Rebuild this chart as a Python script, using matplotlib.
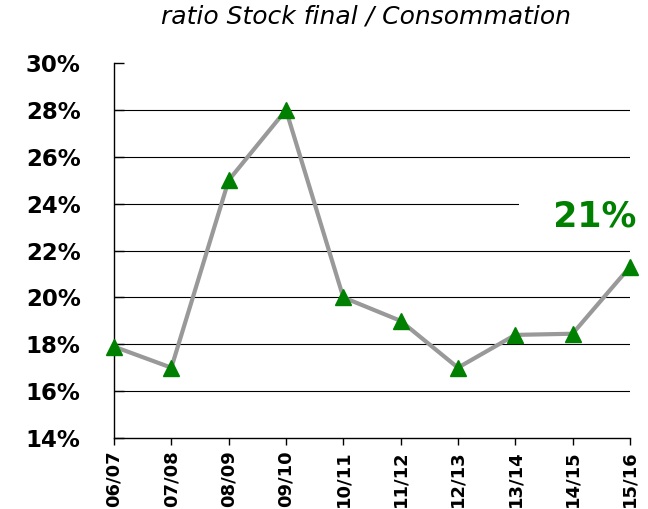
import matplotlib.pyplot as plt
from matplotlib.ticker import FuncFormatter

campagnes = ['06/07', '07/08', '08/09', '09/10', '10/11', '11/12', '12/13', '13/14', '14/15', '15/16']
ratio = [17.9, 17.0, 25.0, 28.0, 20.0, 19.0, 17.0, 18.4, 18.45, 21.3]
y_ticks = [14, 16, 18, 20, 22, 24, 26, 28, 30]
last_label = '21%'

fig = plt.figure(figsize=(6.48, 5.09), dpi=100)
ax = fig.add_axes([0.176, 0.1395, 0.796, 0.7365])

x = range(len(campagnes))
ax.plot(x, ratio, color='#999999', lw=3, zorder=3, clip_on=False)
ax.plot(x, ratio, ls='none', marker='^', ms=11.5, color='#008000', zorder=4, clip_on=False)

ax.set_xlim(0, len(campagnes) - 1)
ax.set_ylim(y_ticks[0], y_ticks[-1])
ax.set_yticks(y_ticks)
ax.yaxis.set_major_formatter(FuncFormatter(lambda v, p: f'{v:.0f}%'))
ax.set_xticks(list(x))
ax.set_xticklabels(campagnes, rotation=90)

for lab in ax.get_yticklabels():
    lab.set_fontweight('bold')
    lab.set_fontsize(16.5)
for lab in ax.get_xticklabels():
    lab.set_fontweight('bold')
    lab.set_fontsize(13)

ax.tick_params(axis='y', direction='in', length=7, pad=24, width=1)
ax.tick_params(axis='x', direction='out', length=5, pad=4, width=1)

ax.grid(axis='y', color='black', lw=0.8, zorder=1)
ax.grid(axis='x', visible=False)
gl = ax.yaxis.get_gridlines()
gl[0].set_visible(False)
gl[-1].set_visible(False)

for s in ['top', 'right']:
    ax.spines[s].set_visible(False)
for s in ['left', 'bottom']:
    ax.spines[s].set_color('black')
    ax.spines[s].set_linewidth(1)

# valeur de la dernière campagne
ax.text(9.12, 23.45, '  ' + last_label, color='#008000', fontsize=25, fontweight='bold',
        ha='right', va='center', zorder=2, clip_on=False,
        bbox=dict(boxstyle='square,pad=0.3', fc='white', ec='none'))

fig.text(0.565, 0.968, 'ratio Stock final / Consommation', ha='center', va='center',
         fontsize=18, style='italic')

fig.savefig('out.png', dpi=100)
